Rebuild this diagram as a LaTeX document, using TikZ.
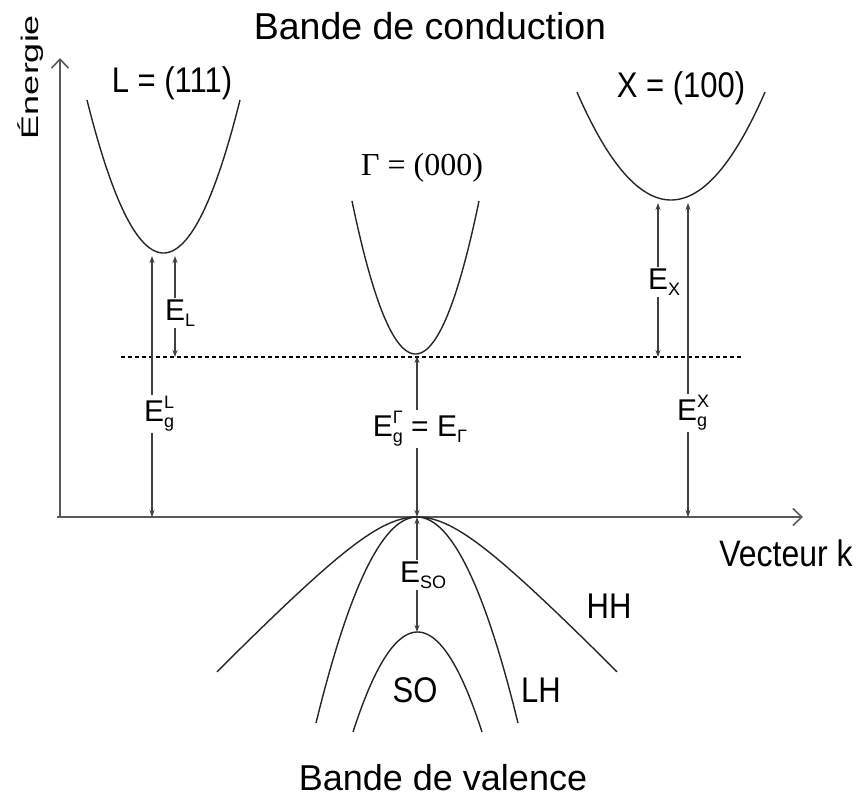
\documentclass[tikz,border=0pt]{standalone}
\usepackage{fontspec}
\setmainfont{Liberation Sans}
\newfontfamily\serifgamma{Liberation Serif}
\usetikzlibrary{arrows.meta}
\newcommand{\fsz}[1]{\fontsize{#1}{#1}\selectfont}
\newcommand{\tallbox}[1]{\scalebox{1}[1.15]{#1}}
\newcommand{\mysubsup}[2]{\makebox[0pt][l]{\raisebox{-6pt}{\fsz{18}#1}}\raisebox{13pt}{\fsz{18}#2}}
\newcommand{\mysub}[1]{\raisebox{-6pt}{\fsz{18}#1}}
\begin{document}
\begin{tikzpicture}[x=1pt,y=-1pt,
  curve/.style={line width=1.4pt, black!85},
  axisline/.style={line width=2.2pt, draw=black!65, -{Straight Barb[length=9pt,width=17pt,line width=1.6pt]}},
  earrow/.style={line width=1.3pt, draw=black!75, -{Stealth[length=7pt,width=5pt]}},
  lbl/.style={font=\fsz{30}, inner sep=1pt},
  bigtxt/.style={font=\fsz{37.5}, anchor=base, inner sep=0pt},
  midtxt/.style={font=\fsz{31}, anchor=base, inner sep=0pt}]
\useasboundingbox (0,0) rectangle (857,803);

% axes
\coordinate (O) at (60,517);
\coordinate (xstart) at (57,517);
\coordinate (ytop) at (60,58);
\coordinate (xend) at (803,517);
\draw[axisline] (O) -- (ytop);
\draw[axisline] (xstart) -- (xend);

% dashed reference line
\coordinate (dl) at (121,357);
\coordinate (dr) at (742,357);
\draw[line width=1.2pt, dash pattern=on 4pt off 3pt] (dl) -- (dr);

% conduction band parabolas
\draw[curve] plot[domain=87:240, samples=60, smooth] (\x,{253-155*((\x-163.5)/77)^2});
\draw[curve] plot[domain=352:479, samples=60, smooth] (\x,{354-153*((\x-415.5)/63.5)^2});
\draw[curve] plot[domain=577:765, samples=60, smooth] (\x,{200-109*((\x-671)/94.5)^2});

% valence bands
\draw[curve] plot[domain=-200:200, samples=81, smooth] ({417+\x},{517+104*(sqrt(0.36+(\x/100)^2)-0.6)});
\draw[curve] plot[domain=-101:101, samples=61, smooth] ({417+\x},{517+206*(\x/101)^2});
\draw[curve] plot[domain=-64.5:64.5, samples=61, smooth] ({417.5+\x},{632+100*(\x/64.5)^2});

% texts
\node[bigtxt] (title) at (430,39) {Bande de conduction};
\node[font=\fsz{36}, anchor=base, inner sep=0pt] (valence) at (443,790) {Bande de valence};
\node[font=\fsz{24}, rotate=90, inner sep=0pt] (energie) at (31,77) {\scalebox{1.5}[1]{Énergie}};
\node[font=\fsz{31}, anchor=base, inner sep=0pt] (Lname) at (172,92) {\tallbox{L = (111)}};
\node[font=\fsz{32}\serifgamma, anchor=base, inner sep=0pt] (Gname) at (422,175) {Γ = (000)};
\node[font=\fsz{31}, anchor=base, inner sep=0pt] (Xname) at (681,97) {\tallbox{X = (100)}};
\node[font=\fsz{32}, anchor=base, inner sep=0pt] (veck) at (786,566) {\tallbox{Vecteur k}};
\node[midtxt] (HH) at (609,618) {\tallbox{HH}};
\node[midtxt] (LH) at (541,702) {\tallbox{LH}};
\node[midtxt] (SO) at (415,702) {\tallbox{SO}};

% L valley
\coordinate (LgTop) at (152,256);
\coordinate (LgBot) at (152,517);
\coordinate (LeTop) at (175,256);
\coordinate (LeBot) at (175,357);
\node[lbl, anchor=west] (EgL) at (143,414) {E\mysubsup{g}{L}};
\node[lbl, anchor=west] (EL) at (164,313) {E\mysub{L}};
\draw[earrow] (EgL.north -| LgTop) -- (LgTop);
\draw[earrow] (EgL.south -| LgBot) -- (LgBot);
\draw[earrow] (EL.north -| LeTop) -- (LeTop);
\draw[earrow] (EL.south -| LeBot) -- (LeBot);

% Gamma valley
\coordinate (Gmin) at (417,356);
\coordinate (Gbot) at (417,517);
\node[lbl] (EgG) at (420,429) {E\mysubsup{g}{Γ} = E\mysub{Γ}};
\draw[earrow] (EgG.north -| Gmin) -- (Gmin);
\draw[earrow] (EgG.south -| Gbot) -- (Gbot);

% X valley
\coordinate (XeTop) at (658,203);
\coordinate (XeBot) at (658,357);
\coordinate (XgTop) at (688,203);
\coordinate (XgBot) at (688,517);
\node[lbl, anchor=west] (EX) at (647,282) {E\mysub{X}};
\node[lbl, anchor=west] (EgX) at (676,413) {E\mysubsup{g}{X}};
\draw[earrow] (EX.north -| XeTop) -- (XeTop);
\draw[earrow] (EX.south -| XeBot) -- (XeBot);
\draw[earrow] (EgX.north -| XgTop) -- (XgTop);
\draw[earrow] (EgX.south -| XgBot) -- (XgBot);

% spin-orbit splitting
\coordinate (SOtop) at (417,517);
\coordinate (SObot) at (417,632);
\node[lbl, anchor=west] (ESO) at (399,575) {E\mysub{SO}};
\draw[earrow] (ESO.north -| SOtop) -- (SOtop);
\draw[earrow] (ESO.south -| SObot) -- (SObot);
\end{tikzpicture}
\end{document}
